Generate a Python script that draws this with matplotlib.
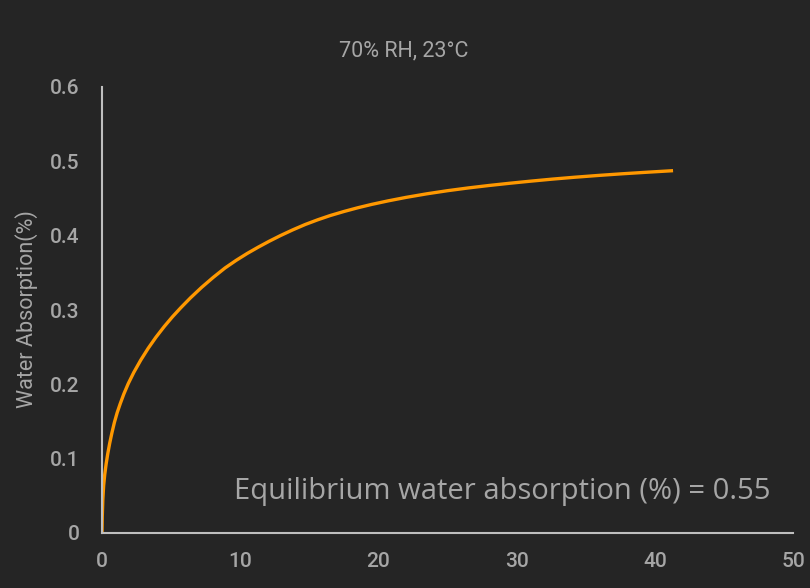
import matplotlib.pyplot as plt

# Data
time = [0, 0.02, 0.06, 0.12, 0.2, 0.3, 0.42, 0.56, 0.72, 0.9, 1.1, 1.32, 1.58, 1.9,
        2.3, 2.8, 3.35, 3.9, 4.5, 5.1, 5.7, 6.4, 7.2, 8.05, 8.9, 9.7, 10.5, 11.3,
        12.1, 12.9, 13.8, 14.7, 15.6, 16.5, 17.5, 18.5, 19.5, 20.7, 22, 23.5, 25,
        26.5, 28, 29.5, 31, 32.6, 34.2, 35.9, 37.6, 39.4, 41.2]
absorption = [0, 0.022, 0.045, 0.064, 0.079, 0.093, 0.107, 0.121, 0.135, 0.149,
              0.162, 0.174, 0.187, 0.201, 0.216, 0.2325, 0.2487, 0.2633, 0.2777,
              0.2909, 0.303, 0.3163, 0.3303, 0.3439, 0.3565, 0.3667, 0.376, 0.3845,
              0.3925, 0.4, 0.4078, 0.415, 0.4213, 0.427, 0.4325, 0.4375, 0.442,
              0.4468, 0.4515, 0.4563, 0.4605, 0.4642, 0.4675, 0.4705, 0.4733, 0.4761,
              0.4786, 0.481, 0.4832, 0.4853, 0.4873]

x_ticks = [0, 10, 20, 30, 40, 50]
y_ticks = [0, 0.1, 0.2, 0.3, 0.4, 0.5, 0.6]
y_tick_labels = ["0", "0.1", "0.2", "0.3", "0.4", "0.5", "0.6"]

bg = "#252525"
text_col = "#a6a6a6"
axis_col = "#bfbfbf"

fig = plt.figure(figsize=(8.1, 5.88), dpi=100, facecolor=bg)
ax = fig.add_axes([102 / 810, 55 / 588, 691 / 810, 446 / 588])
ax.set_facecolor(bg)

ax.plot(time, absorption, color="#ff9800", lw=2.4, solid_joinstyle="round")

ax.set_xlim(0, 50)
ax.set_ylim(0, 0.6)
ax.set_xticks(x_ticks)
ax.set_yticks(y_ticks)
ax.set_yticklabels(y_tick_labels)
ax.tick_params(length=0, colors=text_col, labelsize=15)
ax.tick_params(axis="y", pad=16)
ax.tick_params(axis="x", pad=14)
for lab in ax.get_xticklabels() + ax.get_yticklabels():
    lab.set_fontfamily("Roboto")
    lab.set_fontweight("medium")

for s in ["top", "right"]:
    ax.spines[s].set_visible(False)
for s in ["left", "bottom"]:
    ax.spines[s].set_color(axis_col)
    ax.spines[s].set_linewidth(1.5)

fig.text(404 / 810, 1 - 51 / 588, "70% RH, 23°C", ha="center", va="center",
         color=text_col, fontsize=15.5, family="Roboto")
fig.text(27 / 810, 1 - 309 / 588, "Water Absorption(%)", rotation=90,
         ha="center", va="center", color=text_col, fontsize=15.5, family="Roboto")

ax.text(0.967, 0.094, "Equilibrium water absorption (%) = 0.55", transform=ax.transAxes,
        ha="right", va="center", color=text_col, fontsize=21, family="Open Sans")

fig.savefig("out.png", dpi=100, facecolor=bg)
